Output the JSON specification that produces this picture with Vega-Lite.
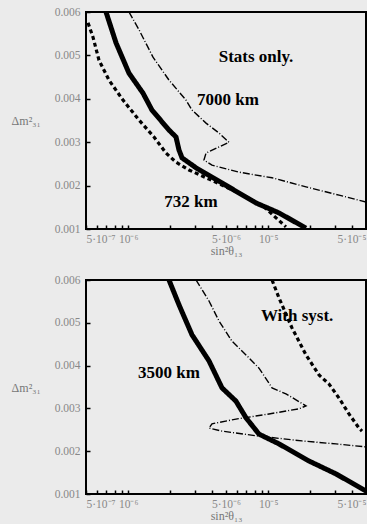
{
  "$schema": "https://vega.github.io/schema/vega-lite/v6.json",
  "background": "#ebebeb",
  "padding": {"left": 11, "top": 6, "right": 0, "bottom": 2},
  "spacing": 17,
  "config": {
    "view": {"stroke": null},
    "axis": {"grid": false, "domain": false, "ticks": true, "labelFont": "Liberation Serif", "labelColor": "#888", "labelFontSize": 11.5, "titleFont": "Liberation Serif", "titleColor": "#777", "titleFontWeight": "normal", "titleFontSize": 12, "tickColor": "black", "tickWidth": 1.5}
  },
  "datasets": {
    "curves": [
      {"panel": "top", "series": "thick", "o": 1, "x": 6.95e-7, "y": 0.006},
      {"panel": "top", "series": "thick", "o": 2, "x": 8.19e-7, "y": 0.00529},
      {"panel": "top", "series": "thick", "o": 3, "x": 1.014e-6, "y": 0.00459},
      {"panel": "top", "series": "thick", "o": 4, "x": 1.277e-6, "y": 0.00413},
      {"panel": "top", "series": "thick", "o": 5, "x": 1.48e-6, "y": 0.00374},
      {"panel": "top", "series": "thick", "o": 6, "x": 1.958e-6, "y": 0.00328},
      {"panel": "top", "series": "thick", "o": 7, "x": 2.197e-6, "y": 0.00312},
      {"panel": "top", "series": "thick", "o": 8, "x": 2.308e-6, "y": 0.00282},
      {"panel": "top", "series": "thick", "o": 9, "x": 2.425e-6, "y": 0.00264},
      {"panel": "top", "series": "thick", "o": 10, "x": 3.053e-6, "y": 0.00241},
      {"panel": "top", "series": "thick", "o": 11, "x": 4.68e-6, "y": 0.00206},
      {"panel": "top", "series": "thick", "o": 12, "x": 8.19e-6, "y": 0.0016},
      {"panel": "top", "series": "thick", "o": 13, "x": 1.196e-5, "y": 0.00137},
      {"panel": "top", "series": "thick", "o": 14, "x": 1.864e-5, "y": 0.00102},

      {"panel": "top", "series": "dashed", "o": 1, "x": 5.17e-7, "y": 0.00575},
      {"panel": "top", "series": "dashed", "o": 2, "x": 5.61e-7, "y": 0.00542},
      {"panel": "top", "series": "dashed", "o": 3, "x": 6.19e-7, "y": 0.00489},
      {"panel": "top", "series": "dashed", "o": 4, "x": 7.3e-7, "y": 0.00443},
      {"panel": "top", "series": "dashed", "o": 5, "x": 9.19e-7, "y": 0.00397},
      {"panel": "top", "series": "dashed", "o": 6, "x": 1.196e-6, "y": 0.00351},
      {"panel": "top", "series": "dashed", "o": 7, "x": 1.53e-6, "y": 0.00312},
      {"panel": "top", "series": "dashed", "o": 8, "x": 1.864e-6, "y": 0.00275},
      {"panel": "top", "series": "dashed", "o": 9, "x": 2.197e-6, "y": 0.00254},
      {"panel": "top", "series": "dashed", "o": 10, "x": 2.72e-6, "y": 0.00236},
      {"panel": "top", "series": "dashed", "o": 11, "x": 3.78e-6, "y": 0.00215},
      {"panel": "top", "series": "dashed", "o": 12, "x": 6.19e-6, "y": 0.00183},
      {"panel": "top", "series": "dashed", "o": 13, "x": 9.34e-6, "y": 0.00151},
      {"panel": "top", "series": "dashed", "o": 14, "x": 1.34e-5, "y": 0.00105},

      {"panel": "top", "series": "dashdot", "o": 1, "x": 1.014e-6, "y": 0.006},
      {"panel": "top", "series": "dashdot", "o": 2, "x": 1.196e-6, "y": 0.00559},
      {"panel": "top", "series": "dashdot", "o": 3, "x": 1.505e-6, "y": 0.00496},
      {"panel": "top", "series": "dashdot", "o": 4, "x": 1.958e-6, "y": 0.00443},
      {"panel": "top", "series": "dashdot", "o": 5, "x": 2.59e-6, "y": 0.00397},
      {"panel": "top", "series": "dashdot", "o": 6, "x": 2.858e-6, "y": 0.00374},
      {"panel": "top", "series": "dashdot", "o": 7, "x": 3.6e-6, "y": 0.00344},
      {"panel": "top", "series": "dashdot", "o": 8, "x": 4.46e-6, "y": 0.00321},
      {"panel": "top", "series": "dashdot", "o": 9, "x": 5.25e-6, "y": 0.003},
      {"panel": "top", "series": "dashdot", "o": 10, "x": 4.46e-6, "y": 0.00289},
      {"panel": "top", "series": "dashdot", "o": 11, "x": 3.6e-6, "y": 0.00275},
      {"panel": "top", "series": "dashdot", "o": 12, "x": 3.48e-6, "y": 0.00259},
      {"panel": "top", "series": "dashdot", "o": 13, "x": 3.97e-6, "y": 0.00247},
      {"panel": "top", "series": "dashdot", "o": 14, "x": 6.19e-6, "y": 0.00231},
      {"panel": "top", "series": "dashdot", "o": 15, "x": 1.066e-5, "y": 0.00218},
      {"panel": "top", "series": "dashdot", "o": 16, "x": 1.864e-5, "y": 0.00197},
      {"panel": "top", "series": "dashdot", "o": 17, "x": 3.21e-5, "y": 0.00178},
      {"panel": "top", "series": "dashdot", "o": 18, "x": 5e-5, "y": 0.00162},

      {"panel": "bottom", "series": "thick", "o": 1, "x": 1.958e-6, "y": 0.006},
      {"panel": "bottom", "series": "thick", "o": 2, "x": 2.308e-6, "y": 0.00542},
      {"panel": "bottom", "series": "thick", "o": 3, "x": 2.858e-6, "y": 0.00472},
      {"panel": "bottom", "series": "thick", "o": 4, "x": 3.78e-6, "y": 0.00411},
      {"panel": "bottom", "series": "thick", "o": 5, "x": 4.68e-6, "y": 0.00348},
      {"panel": "bottom", "series": "thick", "o": 6, "x": 5.89e-6, "y": 0.00317},
      {"panel": "bottom", "series": "thick", "o": 7, "x": 6.95e-6, "y": 0.00278},
      {"panel": "bottom", "series": "thick", "o": 8, "x": 8.6e-6, "y": 0.0024},
      {"panel": "bottom", "series": "thick", "o": 9, "x": 1.196e-5, "y": 0.00217},
      {"panel": "bottom", "series": "thick", "o": 10, "x": 1.96e-5, "y": 0.00177},
      {"panel": "bottom", "series": "thick", "o": 11, "x": 3.05e-5, "y": 0.00147},
      {"panel": "bottom", "series": "thick", "o": 12, "x": 5e-5, "y": 0.00107},

      {"panel": "bottom", "series": "dashdot", "o": 1, "x": 3.053e-6, "y": 0.006},
      {"panel": "bottom", "series": "dashdot", "o": 2, "x": 3.78e-6, "y": 0.00551},
      {"panel": "bottom", "series": "dashdot", "o": 3, "x": 4.46e-6, "y": 0.00504},
      {"panel": "bottom", "series": "dashdot", "o": 4, "x": 5.52e-6, "y": 0.00457},
      {"panel": "bottom", "series": "dashdot", "o": 5, "x": 7.3e-6, "y": 0.00418},
      {"panel": "bottom", "series": "dashdot", "o": 6, "x": 8.6e-6, "y": 0.00394},
      {"panel": "bottom", "series": "dashdot", "o": 7, "x": 1.066e-5, "y": 0.00348},
      {"panel": "bottom", "series": "dashdot", "o": 8, "x": 1.34e-5, "y": 0.00334},
      {"panel": "bottom", "series": "dashdot", "o": 9, "x": 1.864e-5, "y": 0.00306},
      {"panel": "bottom", "series": "dashdot", "o": 10, "x": 1.66e-5, "y": 0.00299},
      {"panel": "bottom", "series": "dashdot", "o": 11, "x": 1.014e-5, "y": 0.00287},
      {"panel": "bottom", "series": "dashdot", "o": 12, "x": 5.89e-6, "y": 0.00275},
      {"panel": "bottom", "series": "dashdot", "o": 13, "x": 3.97e-6, "y": 0.00264},
      {"panel": "bottom", "series": "dashdot", "o": 14, "x": 3.78e-6, "y": 0.00254},
      {"panel": "bottom", "series": "dashdot", "o": 15, "x": 4.68e-6, "y": 0.00247},
      {"panel": "bottom", "series": "dashdot", "o": 16, "x": 8.19e-6, "y": 0.00236},
      {"panel": "bottom", "series": "dashdot", "o": 17, "x": 1.746e-5, "y": 0.00224},
      {"panel": "bottom", "series": "dashdot", "o": 18, "x": 3.05e-5, "y": 0.00217},
      {"panel": "bottom", "series": "dashdot", "o": 19, "x": 5e-5, "y": 0.0021},

      {"panel": "bottom", "series": "dashed", "o": 1, "x": 1.066e-5, "y": 0.006},
      {"panel": "bottom", "series": "dashed", "o": 2, "x": 1.196e-5, "y": 0.00558},
      {"panel": "bottom", "series": "dashed", "o": 3, "x": 1.48e-5, "y": 0.00488},
      {"panel": "bottom", "series": "dashed", "o": 4, "x": 1.864e-5, "y": 0.00425},
      {"panel": "bottom", "series": "dashed", "o": 5, "x": 2.31e-5, "y": 0.00378},
      {"panel": "bottom", "series": "dashed", "o": 6, "x": 2.72e-5, "y": 0.00357},
      {"panel": "bottom", "series": "dashed", "o": 7, "x": 3.21e-5, "y": 0.00324},
      {"panel": "bottom", "series": "dashed", "o": 8, "x": 3.78e-5, "y": 0.00287},
      {"panel": "bottom", "series": "dashed", "o": 9, "x": 4.46e-5, "y": 0.00254},
      {"panel": "bottom", "series": "dashed", "o": 10, "x": 4.68e-5, "y": 0.00247}
    ],
    "labels": [
      {"panel": "top", "text": "Stats only.", "x": 8.19e-6, "y": 0.00496},
      {"panel": "top", "text": "7000 km", "x": 5.16e-6, "y": 0.00397},
      {"panel": "top", "text": "732 km", "x": 2.81e-6, "y": 0.00162},
      {"panel": "bottom", "text": "With syst.", "x": 1.61e-5, "y": 0.00516},
      {"panel": "bottom", "text": "3500 km", "x": 1.958e-6, "y": 0.00383}
    ]
  },
  "vconcat": [
    {
      "width": 280,
      "height": 217,
      "layer": [
        {
          "data": {"name": "curves"},
          "transform": [{"filter": "datum.panel == 'top'"}],
          "mark": {"type": "line", "color": "black", "clip": true},
          "encoding": {
            "x": {"field": "x", "type": "quantitative", "scale": {"type": "log", "domain": [5e-7, 5e-5], "nice": false},
              "axis": {"values": [5e-7, 6e-7, 7e-7, 8e-7, 9e-7, 1e-6, 2e-6, 3e-6, 4e-6, 5e-6, 6e-6, 7e-6, 8e-6, 9e-6, 1e-5, 2e-5, 3e-5, 4e-5, 5e-5],
                "labelExpr": "datum.value < 5.5e-7 ? '5·10⁻⁷' : (datum.value > 9.5e-7 && datum.value < 1.05e-6) ? '10⁻⁶' : (datum.value > 4.5e-6 && datum.value < 5.5e-6) ? '5·10⁻⁶' : (datum.value > 9.5e-6 && datum.value < 1.05e-5) ? '10⁻⁵' : datum.value > 4.5e-5 ? '5·10⁻⁵' : ''",
                "tickSize": -4, "labelPadding": 8, "labelOverlap": false, "title": "sin²θ₁₃", "titlePadding": 1}},
            "y": {"field": "y", "type": "quantitative", "scale": {"domain": [0.001, 0.006], "zero": false, "nice": false},
              "axis": {"values": [0.001, 0.002, 0.003, 0.004, 0.005, 0.006], "format": ".3f", "tickSize": -4, "labelPadding": 10, "title": "Δm²₃₁", "titleAngle": 0, "titlePadding": 14, "titleAlign": "right", "titleBaseline": "middle"}},
            "order": {"field": "o", "type": "quantitative"},
            "detail": {"field": "series"},
            "strokeDash": {"field": "series", "type": "nominal", "scale": {"domain": ["thick", "dashed", "dashdot"], "range": [[1, 0], [4, 3], [7, 2, 1, 2]]}, "legend": null},
            "size": {"field": "series", "type": "nominal", "scale": {"domain": ["thick", "dashed", "dashdot"], "range": [5, 1.4, 1]}, "legend": null}
          }
        },
        {
          "data": {"values": [{}]},
          "mark": {"type": "rect", "filled": false, "stroke": "black", "strokeWidth": 2},
          "encoding": {
            "x": {"datum": 5e-7, "type": "quantitative"},
            "x2": {"datum": 5e-5},
            "y": {"datum": 0.001, "type": "quantitative"},
            "y2": {"datum": 0.006}
          }
        },
        {
          "data": {"name": "labels"},
          "transform": [{"filter": "datum.panel == 'top'"}],
          "mark": {"type": "text", "font": "Liberation Serif", "fontWeight": "bold", "fontSize": 17, "color": "black"},
          "encoding": {
            "x": {"field": "x", "type": "quantitative"},
            "y": {"field": "y", "type": "quantitative"},
            "text": {"field": "text"}
          }
        }
      ]
    },
    {
      "width": 280,
      "height": 214,
      "layer": [
        {
          "data": {"name": "curves"},
          "transform": [{"filter": "datum.panel == 'bottom'"}],
          "mark": {"type": "line", "color": "black", "clip": true},
          "encoding": {
            "x": {"field": "x", "type": "quantitative", "scale": {"type": "log", "domain": [5e-7, 5e-5], "nice": false},
              "axis": {"values": [5e-7, 6e-7, 7e-7, 8e-7, 9e-7, 1e-6, 2e-6, 3e-6, 4e-6, 5e-6, 6e-6, 7e-6, 8e-6, 9e-6, 1e-5, 2e-5, 3e-5, 4e-5, 5e-5],
                "labelExpr": "datum.value < 5.5e-7 ? '5·10⁻⁷' : (datum.value > 9.5e-7 && datum.value < 1.05e-6) ? '10⁻⁶' : (datum.value > 4.5e-6 && datum.value < 5.5e-6) ? '5·10⁻⁶' : (datum.value > 9.5e-6 && datum.value < 1.05e-5) ? '10⁻⁵' : datum.value > 4.5e-5 ? '5·10⁻⁵' : ''",
                "tickSize": -4, "labelPadding": 8, "labelOverlap": false, "title": "sin²θ₁₃", "titlePadding": 1}},
            "y": {"field": "y", "type": "quantitative", "scale": {"domain": [0.001, 0.006], "zero": false, "nice": false},
              "axis": {"values": [0.001, 0.002, 0.003, 0.004, 0.005, 0.006], "format": ".3f", "tickSize": -4, "labelPadding": 10, "title": "Δm²₃₁", "titleAngle": 0, "titlePadding": 14, "titleAlign": "right", "titleBaseline": "middle"}},
            "order": {"field": "o", "type": "quantitative"},
            "detail": {"field": "series"},
            "strokeDash": {"field": "series", "type": "nominal", "scale": {"domain": ["thick", "dashed", "dashdot"], "range": [[1, 0], [4, 3], [7, 2, 1, 2]]}, "legend": null},
            "size": {"field": "series", "type": "nominal", "scale": {"domain": ["thick", "dashed", "dashdot"], "range": [5, 1.4, 1]}, "legend": null}
          }
        },
        {
          "data": {"values": [{}]},
          "mark": {"type": "rect", "filled": false, "stroke": "black", "strokeWidth": 2},
          "encoding": {
            "x": {"datum": 5e-7, "type": "quantitative"},
            "x2": {"datum": 5e-5},
            "y": {"datum": 0.001, "type": "quantitative"},
            "y2": {"datum": 0.006}
          }
        },
        {
          "data": {"name": "labels"},
          "transform": [{"filter": "datum.panel == 'bottom'"}],
          "mark": {"type": "text", "font": "Liberation Serif", "fontWeight": "bold", "fontSize": 17, "color": "black"},
          "encoding": {
            "x": {"field": "x", "type": "quantitative"},
            "y": {"field": "y", "type": "quantitative"},
            "text": {"field": "text"}
          }
        }
      ]
    }
  ]
}
